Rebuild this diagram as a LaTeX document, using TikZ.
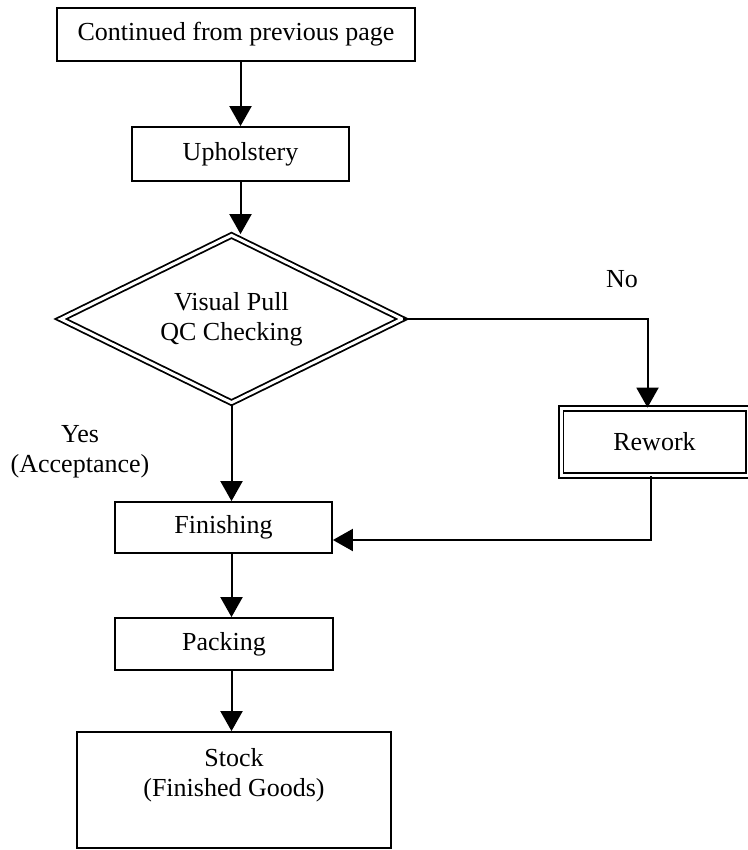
\documentclass[tikz,border=0pt]{standalone}
\usepackage{fontspec}
\setmainfont{Liberation Serif}
\usetikzlibrary{calc}
\usetikzlibrary{arrows.meta}
\usetikzlibrary{shapes.geometric}

\begin{document}
\begin{tikzpicture}[x=0.5pt, y=-0.5pt,
		font=\fontsize{13}{15}\selectfont,
		box/.style={draw, line width=0.9pt, rectangle, inner sep=0pt},
		choice/.style={draw, diamond, aspect=2, line width=0.9pt, double, double distance=1.5pt, inner sep=0pt, align=center},
		arr/.style={line width=1pt, -{Triangle[length=10pt, width=11pt]}}]
    		\useasboundingbox (0,0) rectangle (748,850);
    		% boxes down the main line
    		\node [box, minimum width=179pt, minimum height=26.5pt] (prev) at (236,34.5) {Continued from previous page};
    		\node [box, minimum width=108.5pt, minimum height=27pt] (uphol) at (240.5,154) {Upholstery};
    		\node [choice, minimum width=171pt, minimum height=84pt] (qc) at (231.5,319) {Visual Pull\\QC Checking};
    		\node [box, minimum width=108.5pt, minimum height=25.5pt] (finish) at (223.5,527.5) {Finishing};
    		\node [box, minimum width=109pt, minimum height=26pt] (pack) at (224,644) {Packing};
    		\node [box, minimum width=157pt, minimum height=58pt] (stock) at (234,790) {};
    		\node [align=center] at ($(stock.center)+(0,-15)$) {Stock\\(Finished Goods)};
    		% rework branch
    		\node [box, double, double distance=1.5pt, minimum width=93.5pt, minimum height=33.5pt] (rework) at (654.5,442) {Rework};
    		\node (no) at (622,279) {No};
    		\node [align=center] (yes) at (80,452) {Yes\\(Acceptance)};
    		% connectors
    		\draw [arr] (prev.south -| uphol.north) -- (uphol.north);
    		\draw [arr] (uphol.south) -- (uphol.south |- qc.north);
    		\draw [arr] (qc.south) -- (qc.south |- finish.north);
    		\draw [arr] (finish.south -| qc.south) -- (pack.north -| qc.south);
    		\draw [arr] (pack.south -| qc.south) -- (stock.north -| qc.south);
    		\draw [arr] (qc.east) -| ($(rework.north)+(-7,0)$);
    		\draw [arr] ($(rework.south)+(-4,0)$) |- ($(finish.east)+(0,12.5)$); % back into finishing
    	\end{tikzpicture}
\end{document}
